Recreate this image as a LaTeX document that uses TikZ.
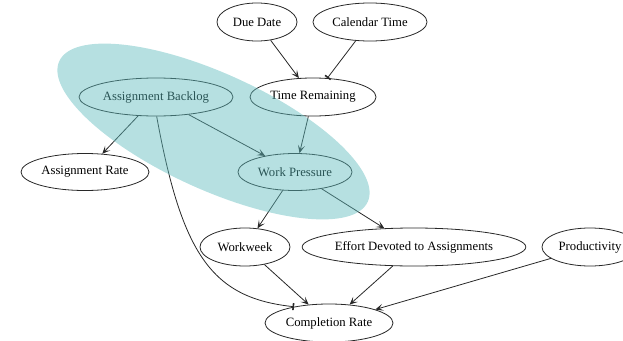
\documentclass[tikz,border=0pt]{standalone}
\usepackage{fontspec}
\setmainfont{Liberation Serif}
\usetikzlibrary{shapes.geometric,arrows.meta}

\definecolor{edgeclr}{RGB}{40,40,40}
\definecolor{groupclr}{RGB}{93,187,189}

\tikzset{
  var/.style={ellipse, draw=edgeclr, line width=0.8pt, inner sep=0pt,
    font=\fontsize{12.7}{14}\selectfont},
  arr/.style={draw=edgeclr, line width=0.8pt,
    -{Stealth[length=8pt,width=7pt,inset=4pt]}},
  tee/.style={draw=edgeclr, line width=0.8pt,
    -{Bar[width=7pt,line width=1.6pt]}},
  group/.style={fill=groupclr, opacity=0.45}
}

\begin{document}
\begin{tikzpicture}[x=1pt,y=-1pt]
  \useasboundingbox (0,0) rectangle (623,340);
  \clip (0,0) rectangle (623,340);

  % variables
  \node[var, minimum width=80pt,  minimum height=38pt] (dd) at (257,22)  {Due Date};
  \node[var, minimum width=114pt, minimum height=38pt] (ct) at (370,22)  {Calendar Time};
  \node[var, minimum width=126pt, minimum height=38pt] (tr) at (313,97)  {Time Remaining};
  \node[var, minimum width=154pt, minimum height=38pt] (bl) at (156,97)  {Assignment Backlog};
  \node[var, minimum width=128pt, minimum height=37pt] (ar) at (85,172)  {Assignment Rate};
  \node[var, minimum width=114pt, minimum height=37pt] (wp) at (295,172) {Work Pressure};
  \node[var, minimum width=90pt,  minimum height=38pt] (ww) at (245,247) {Workweek};
  \node[var, minimum width=220pt, minimum height=38pt] (ef) at (414,247) {Effort Devoted to Assignments};
  \node[var, minimum width=96pt,  minimum height=38pt] (pr) at (590,247) {Productivity};
  \node[var, minimum width=128pt, minimum height=38pt] (cr) at (329,323) {Completion Rate};

  % causal links
  \draw[arr] (dd) -- (tr);
  \draw[tee] (ct) -- (tr);
  \draw[arr] (bl) -- (ar);
  \draw[arr] (bl) -- (wp);
  \draw[arr] (tr) -- (wp);
  \draw[arr] (wp) -- (ww);
  \draw[arr] (wp) -- (ef);
  \draw[arr] (ww) -- (cr);
  \draw[arr] (ef) -- (cr);
  \draw[arr] (pr) -- (cr);
  \draw[tee] (bl.-88) .. controls (182,255) and (212,298) .. (cr.155);

  % highlighted loop
  \fill[group, rotate around={-24.5:(213.5,131.5)}]
    (213.5,131.5) ellipse [x radius=169.5pt, y radius=58pt];
\end{tikzpicture}
\end{document}
